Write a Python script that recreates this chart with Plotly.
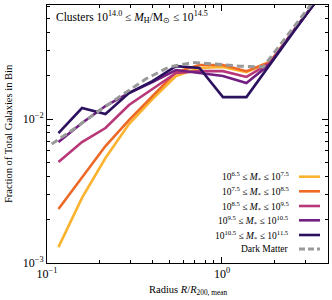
import plotly.graph_objects as go

# ---- data ----
radius = [0.1163, 0.1585, 0.2159, 0.2941, 0.4007, 0.5459, 0.7437, 1.0132, 1.380, 1.880, 2.562, 3.490]
radius_dm = [0.1064, 0.1449, 0.1974, 0.2690, 0.3664, 0.4992, 0.6801, 0.9266, 1.262, 1.720, 2.343, 3.192, 4.348]

frac_65_75 = [0.00129, 0.00283, 0.00536, 0.00923, 0.01377, 0.0199, 0.0226, 0.0230, 0.0212, 0.0249, 0.0409, 0.067]
frac_75_85 = [0.00237, 0.00395, 0.00649, 0.00984, 0.01445, 0.0212, 0.0237, 0.0237, 0.0215, 0.0249, 0.0409, 0.067]
frac_85_95 = [0.00503, 0.00692, 0.00866, 0.01251, 0.01616, 0.0209, 0.0215, 0.0215, 0.0196, 0.0245, 0.0409, 0.067]
frac_95_105 = [0.00692, 0.00938, 0.01231, 0.01517, 0.01807, 0.0219, 0.0209, 0.0199, 0.0178, 0.0241, 0.0409, 0.067]
frac_105_115 = [0.00799, 0.01192, 0.01083, 0.01517, 0.01836, 0.0233, 0.0226, 0.0142, 0.0142, 0.0241, 0.0402, 0.067]
frac_dm = [0.00670, 0.00866, 0.01137, 0.01468, 0.01896, 0.0230, 0.0247, 0.0241, 0.0233, 0.0230, 0.0371, 0.0610, 0.100]

labels = [
    "10<sup>6.5</sup> ≤ <i>M</i><sub>*</sub> ≤ 10<sup>7.5</sup>",
    "10<sup>7.5</sup> ≤ <i>M</i><sub>*</sub> ≤ 10<sup>8.5</sup>",
    "10<sup>8.5</sup> ≤ <i>M</i><sub>*</sub> ≤ 10<sup>9.5</sup>",
    "10<sup>9.5</sup> ≤ <i>M</i><sub>*</sub> ≤ 10<sup>10.5</sup>",
    "10<sup>10.5</sup> ≤ <i>M</i><sub>*</sub> ≤ 10<sup>11.5</sup>",
]
dm_label = "Dark Matter"
colors = ["#fbb32f", "#ed6925", "#b73779", "#721f81", "#2c115f"]
dm_color = "#999999"

xtick_vals = [0.1, 1]
xtick_text = ["10<sup>−1</sup>", "10<sup>0</sup>"]
ytick_vals = [0.001, 0.01]
ytick_text = ["10<sup>−3</sup>", "10<sup>−2</sup>"]

series = [frac_65_75, frac_75_85, frac_85_95, frac_95_105, frac_105_115]

FONT = "Liberation Serif"
W, H = 332, 300
L, R, T, B = 47, 4, 5, 37

fig = go.Figure()
for ys, c, lab in zip(series, colors, labels):
    fig.add_trace(go.Scatter(x=radius, y=ys, mode="lines", name=lab,
                             line=dict(color=c, width=2.6), showlegend=False))
fig.add_trace(go.Scatter(x=radius_dm, y=frac_dm, mode="lines", name=dm_label,
                         line=dict(color=dm_color, width=3, dash="7px,4px"), showlegend=False))

xr = [-1, 0.606]
yr = [-3, -1.208]

minor_x = [m * 10.0**e for e in (-1, 0) for m in range(2, 10) if m * 10.0**e < 10**xr[1]]
minor_y = [m * 10.0**e for e in (-3, -2) for m in range(2, 10) if m * 10.0**e < 10**yr[1]]

axis_common = dict(showgrid=False, zeroline=False, ticks="inside", mirror="ticks",
                   showline=True, linecolor="black", linewidth=1, tickcolor="black",
                   tickwidth=1, ticklen=6,
                   tickfont=dict(family=FONT, size=12, color="black"))

fig.update_layout(
    width=W, height=H,
    margin=dict(l=L, r=R, t=T, b=B),
    plot_bgcolor="white", paper_bgcolor="white",
    font=dict(family=FONT, color="black"),
    xaxis=dict(type="log", range=xr, tickvals=xtick_vals, ticktext=xtick_text,
               minor=dict(tickmode="array", tickvals=minor_x, ticks="inside", ticklen=3,
                          tickwidth=1, tickcolor="black", showgrid=False),
               **axis_common),
    yaxis=dict(type="log", range=yr, tickvals=ytick_vals, ticktext=ytick_text,
               minor=dict(tickmode="array", tickvals=minor_y, ticks="inside", ticklen=3,
                          tickwidth=1, tickcolor="black", showgrid=False),
               **axis_common),
    showlegend=False,
)

pw = W - L - R
ph = H - T - B
def px_x(x):
    return (x - L) / pw
def px_y(y):
    return (H - B - y) / ph

ann = []
ann.append(dict(x=px_x(54), y=px_y(17), xref="paper", yref="paper", xanchor="left", yanchor="middle",
                text="Clusters 10<sup>14.0</sup> ≤ <i>M</i><sub>H</sub>/M<sub>⊙</sub> ≤ 10<sup>14.5</sup>",
                showarrow=False, font=dict(family=FONT, size=11.5, color="black")))
ann.append(dict(x=0.5, y=px_y(290), xref="paper", yref="paper", xanchor="center", yanchor="middle",
                text="Radius <i>R</i>/<i>R</i><sub>200, mean</sub>",
                showarrow=False, font=dict(family=FONT, size=10.5, color="black")))
ann.append(dict(x=px_x(8), y=0.5, xref="paper", yref="paper", xanchor="center", yanchor="middle",
                text="Fraction of Total Galaxies in Bin", textangle=-90,
                showarrow=False, font=dict(family=FONT, size=10.5, color="black")))

leg_y = [176.7, 191.3, 206.0, 220.3, 235.0, 249.0]
leg_text = labels + [dm_label]
leg_col = colors + [dm_color]
shapes = []
for i, (yy, t, c) in enumerate(zip(leg_y, leg_text, leg_col)):
    ann.append(dict(x=px_x(291), y=px_y(yy), xref="paper", yref="paper", xanchor="right", yanchor="middle",
                    text=t, showarrow=False, font=dict(family=FONT, size=9.5, color="black")))
    shapes.append(dict(type="line", xref="paper", yref="paper",
                       x0=px_x(299), x1=px_x(320), y0=px_y(yy), y1=px_y(yy),
                       line=dict(color=c, width=2.6 if i < 5 else 3, dash="solid" if i < 5 else "6px,3px")))

fig.update_layout(annotations=ann, shapes=shapes)
fig.write_html("out.html", config={"displayModeBar": False})

with open("out.html", "r", encoding="utf-8") as f:
    html = f.read()
html = html.replace("<body>", '<body style="margin:0;padding:0;overflow:hidden">', 1)
with open("out.html", "w", encoding="utf-8") as f:
    f.write(html)
